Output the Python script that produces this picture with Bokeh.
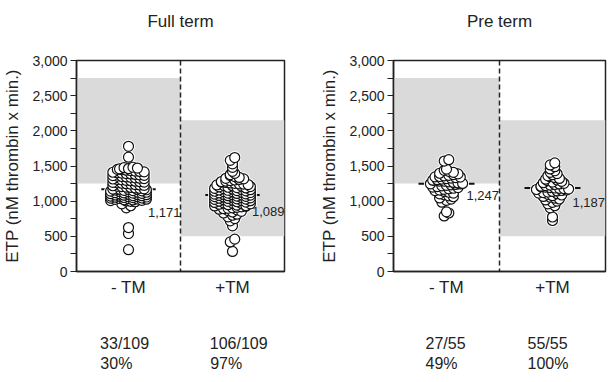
from bokeh.plotting import figure
from bokeh.layouts import row
from bokeh.models import (Range1d, FixedTicker, NumeralTickFormatter, Span, Label,
                          LinearAxis, Title)
from bokeh.embed import file_html
from bokeh.resources import INLINE

FONT = "Liberation Sans"
INK = "#222222"

# ---------------- data ----------------
panel_titles = ["Full term", "Pre term"]
categories = ["- TM", "+TM"]
y_label = "ETP (nM thrombin x min.)"
y_ticks = [0, 500, 1000, 1500, 2000, 2500, 3000]
y_minor = [250, 750, 1250, 1750, 2250, 2750]

# ETP values read (estimated) from the dot plots
full_minus = [310, 540, 625, 905, 935, 962,
              992, 998, 1003, 1009, 1012, 1017, 1020, 1025, 1028, 1031,
              1036, 1038, 1043, 1045, 1050, 1052, 1057, 1059, 1064, 1066,
              1071, 1073, 1078, 1080, 1085, 1088, 1092, 1095, 1099, 1103,
              1106, 1111, 1114, 1119, 1122, 1127, 1130, 1135, 1138, 1143,
              1146, 1151, 1154, 1159, 1162, 1166, 1168, 1170,
              1171,
              1176, 1183, 1188, 1195, 1200, 1207, 1212, 1219, 1224, 1231,
              1236, 1243, 1248, 1255, 1260, 1267, 1272, 1279, 1284, 1291,
              1296, 1303, 1308, 1315, 1320, 1327, 1332, 1339, 1344, 1351,
              1356, 1363, 1368, 1375, 1380, 1387, 1392, 1399, 1404, 1411,
              1416, 1423, 1428, 1435, 1440, 1447, 1452, 1459, 1464, 1471,
              1476, 1482, 1625, 1780]
full_plus = [285, 420, 460, 650, 720, 752,
             778, 800,
             815, 832, 846,
             856, 866, 876, 886,
             893, 899, 906, 913, 920, 927,
             932, 938, 944, 950, 956, 962, 968,
             972, 977, 982, 987, 992, 997, 1002, 1007,
             1012, 1016, 1021, 1025, 1030, 1034, 1039, 1043, 1048,
             1052, 1056, 1060, 1065, 1069, 1073, 1078, 1082, 1086,
             1089,
             1092, 1096, 1101, 1105, 1110, 1114, 1119, 1123, 1128,
             1133, 1137, 1141, 1146, 1150, 1155, 1159, 1163, 1168,
             1173, 1178, 1183, 1188, 1193, 1198, 1203, 1208,
             1214, 1219, 1225, 1231, 1236, 1242, 1247,
             1253, 1259, 1266, 1272, 1279, 1285,
             1293, 1301, 1309, 1317, 1325,
             1337, 1350, 1363,
             1378, 1395,
             1425,
             1480, 1530, 1580, 1620]
pre_minus = [790, 832, 848, 985, 1012, 1030, 1046, 1063, 1075, 1090,
             1104, 1115, 1127, 1138, 1150, 1158, 1168, 1175, 1184, 1193,
             1201, 1208, 1217, 1224, 1232, 1238, 1244,
             1247,
             1252, 1259, 1266, 1275, 1283, 1285, 1290, 1298, 1305, 1313,
             1320, 1328, 1336, 1343, 1345, 1351, 1360, 1368, 1378, 1388,
             1397, 1410, 1425, 1438, 1455, 1570, 1590]
pre_plus = [725, 775, 905, 935, 962, 983, 1001, 1017, 1031, 1044,
            1056, 1067, 1078, 1088, 1097, 1106, 1114, 1122, 1130, 1138,
            1145, 1152, 1159, 1166, 1172, 1178, 1183,
            1187,
            1192, 1199, 1206, 1214, 1221, 1229, 1237, 1245, 1254, 1263,
            1272, 1281, 1291, 1301, 1312, 1323, 1335, 1348, 1361, 1376,
            1392, 1410, 1432, 1458, 1490, 1515, 1545]
values = [[full_minus, full_plus], [pre_minus, pre_plus]]
medians = [[1171, 1089], [1247, 1187]]
median_text = [["1,171", "1,089"], ["1,247", "1,187"]]
ref_low = [1250, 500]      # shaded reference range, -TM / +TM
ref_high = [2750, 2150]
counts = [["33/109", "106/109"], ["27/55", "55/55"]]
percents = [["30%", "97%"], ["49%", "100%"]]

# ---------------- layout constants ----------------
FIG_H = 374
BORDER_TOP, BORDER_BOTTOM = 60, 101
panel_w = [302, 305]
border_l = [70, 91]
border_r = [18, 2]
median_dy = [[23, 17], [12, 14]]       # px below median for the value label
text_left_px = [[25, 138], [32, 134]]  # left edge of count text, px from frame left
BOTTOM_FS = 16
DOT_PX = 10
DX_PX = 4.6
BIN = 45
CAP = 9

# approximate advance widths (em) of a Helvetica/Arial-like face
ADV = {"/": 0.278, "%": 0.889, ",": 0.278}


def text_w(s, fs):
    return sum(ADV.get(ch, 0.556) for ch in s) * fs


def swarm(vals, center, dx):
    vals = sorted(vals)
    rows, cur, start = [], [], None
    for v in vals:
        if cur and (v - start > BIN or len(cur) >= CAP):
            rows.append(cur)
            cur = []
        if not cur:
            start = v
        cur.append(v)
    if cur:
        rows.append(cur)
    xs, ys = [], []
    for r in rows:
        n = len(r)
        order = sorted(range(n), key=lambda k: (k * 7) % n)
        for i, k in enumerate(order):
            xs.append(center + (i - (n - 1) / 2) * dx)
            ys.append(r[k])
    return xs, ys


def text_axis(ticks, labels, standoff):
    ax = LinearAxis(ticker=FixedTicker(ticks=ticks, minor_ticks=[]))
    ax.major_label_overrides = {t: s for t, s in zip(ticks, labels)}
    ax.major_label_text_font = FONT
    ax.major_label_text_font_size = f"{BOTTOM_FS}px"
    ax.major_label_text_color = INK
    ax.major_label_standoff = standoff
    ax.major_tick_in = 0
    ax.major_tick_out = 0
    ax.major_tick_line_color = None
    ax.axis_line_color = None
    return ax


def make_panel(idx):
    p = figure(width=panel_w[idx], height=FIG_H,
               x_range=Range1d(0, 2), y_range=Range1d(0, 3000),
               output_backend="svg", toolbar_location=None,
               min_border_left=border_l[idx], min_border_right=border_r[idx],
               min_border_top=BORDER_TOP, min_border_bottom=BORDER_BOTTOM)
    frame_w = panel_w[idx] - border_l[idx] - border_r[idx]
    px = 2.0 / frame_w
    p.outline_line_color = INK
    p.outline_line_width = 1.5
    p.grid.visible = False

    # spacer + title
    p.add_layout(Title(text=" ", text_font_size="10px", standoff=12), "above")
    p.add_layout(Title(text=panel_titles[idx], align="center", text_font=FONT,
                       text_font_size="17px", text_font_style="normal",
                       text_color=INK), "above")

    # y axis
    ya = p.yaxis[0]
    ya.ticker = FixedTicker(ticks=y_ticks, minor_ticks=y_minor)
    ya.formatter = NumeralTickFormatter(format="0,0")
    ya.axis_label = y_label
    ya.axis_label_text_font = FONT
    ya.axis_label_text_font_size = "17px"
    ya.axis_label_text_font_style = "normal"
    ya.axis_label_text_color = INK
    ya.axis_label_standoff = 7
    ya.major_label_text_font = FONT
    ya.major_label_text_font_size = "14px"
    ya.major_label_text_color = INK
    ya.major_label_standoff = 3
    ya.major_tick_in = 0
    ya.major_tick_out = 6
    ya.minor_tick_in = 0
    ya.minor_tick_out = 6
    ya.axis_line_color = INK
    ya.axis_line_width = 1.5
    ya.major_tick_line_color = INK
    ya.minor_tick_line_color = INK

    # x axis (categories)
    xa = p.xaxis[0]
    centers = [i + 0.5 for i in range(len(categories))]
    xa.ticker = FixedTicker(ticks=centers, minor_ticks=[])
    xa.major_label_overrides = {c: t for c, t in zip(centers, categories)}
    xa.major_label_text_font = FONT
    xa.major_label_text_font_size = "17px"
    xa.major_label_text_color = INK
    xa.major_label_standoff = 6
    xa.major_tick_in = 0
    xa.major_tick_out = 0
    xa.major_tick_line_color = None
    xa.axis_line_color = INK
    xa.axis_line_width = 1.5

    # count / percentage lines under each group (left aligned blocks)
    lefts = text_left_px[idx]
    c_ticks = [(l + text_w(s, BOTTOM_FS) / 2) * px for l, s in zip(lefts, counts[idx])]
    q_ticks = [(l + text_w(s, BOTTOM_FS) / 2) * px for l, s in zip(lefts, percents[idx])]
    p.add_layout(text_axis(c_ticks, counts[idx], 35), "below")
    p.add_layout(text_axis(q_ticks, percents[idx], 0), "below")

    # reference ranges
    p.quad(left=[0, 1], right=[1, 2], bottom=ref_low, top=ref_high,
           fill_color="#dadada", line_color=None)
    p.add_layout(Span(location=1, dimension="height", line_color=INK,
                      line_width=1.5, line_dash="5 3"))

    for j, c in enumerate(centers):
        m = medians[idx][j]
        p.segment(x0=[c - 28 * px], x1=[c + 28 * px], y0=[m], y1=[m],
                  line_color="#111111", line_width=2)
        xs, ys = swarm(values[idx][j], c, DX_PX * px)
        p.scatter(xs, ys, marker="circle", size=DOT_PX + 3,
                  fill_color="white", line_color=None)
        p.scatter(xs, ys, marker="circle", size=DOT_PX,
                  fill_color="white", line_color="#111111", line_width=1.2)
        p.add_layout(Label(x=c + 20 * px, y=m, y_offset=-median_dy[idx][j],
                           text=median_text[idx][j], text_font=FONT,
                           text_font_size="13px", text_color=INK,
                           text_align="left", text_baseline="middle"))
    return p


layout = row(make_panel(0), make_panel(1))
open("out.html", "w").write(file_html(layout, INLINE))
